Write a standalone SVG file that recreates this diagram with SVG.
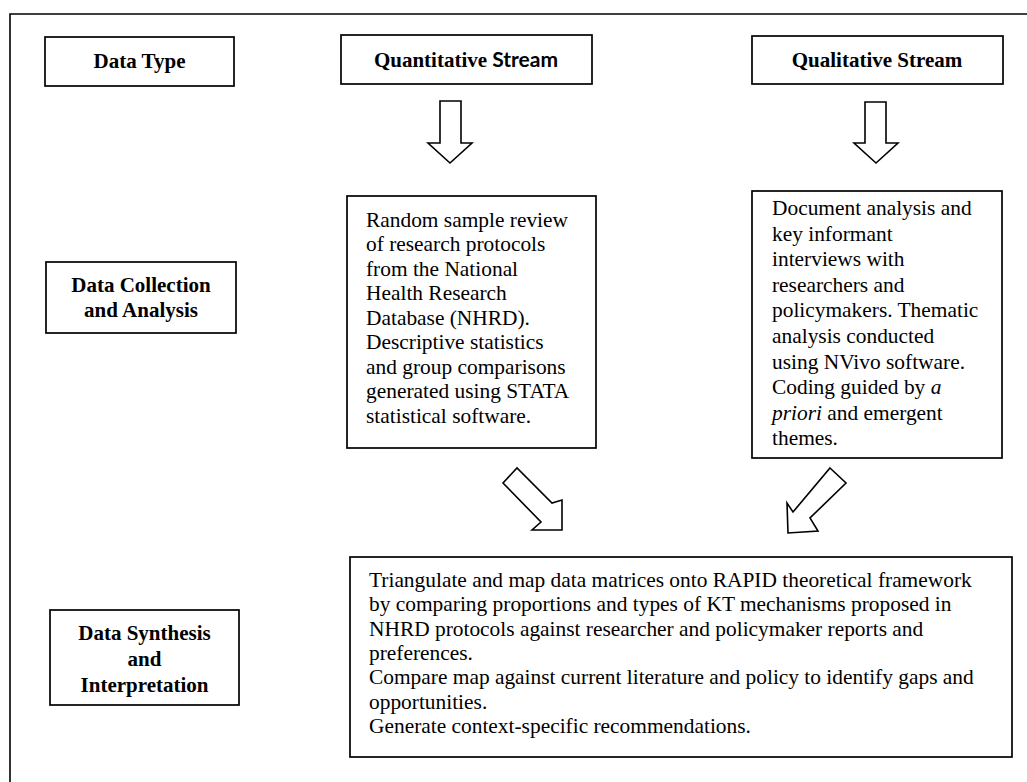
<svg xmlns="http://www.w3.org/2000/svg" width="1027" height="782" viewBox="0 0 1027 782">
  <style>
    .box { fill: #fff; stroke: #000; stroke-width: 1.7; }
    .arrow { fill: #fff; stroke: #000; stroke-width: 1.6; stroke-linejoin: miter; }
    .head { font-family: "Liberation Serif", "Times New Roman", serif; font-weight: bold; font-size: 21px; fill: #000; text-anchor: middle; }
    .sans { font-family: Lato, "Liberation Sans", sans-serif; font-weight: bold; }
    .body { font-family: "Liberation Serif", "Times New Roman", serif; font-size: 21.4px; fill: #000; }
    .frame { fill: none; stroke: #000; stroke-width: 1.6; }
  </style>

  <rect width="1027" height="782" fill="#fff"/>

  <!-- outer frame (open at the right and bottom edges) -->
  <path class="frame" d="M10,782 V14 H1027"/>

  <!-- row labels -->
  <g id="label-data-type">
    <rect class="box" x="45" y="37" width="189" height="49"/>
    <text class="head" x="139.5" y="68">Data Type</text>
  </g>
  <g id="label-collection">
    <rect class="box" x="46" y="262" width="190" height="71"/>
    <text class="head" x="141" y="292">Data Collection</text>
    <text class="head" x="141" y="317">and Analysis</text>
  </g>
  <g id="label-synthesis">
    <rect class="box" x="50" y="610" width="189" height="95"/>
    <text class="head" x="144.5" y="640">Data Synthesis</text>
    <text class="head" x="144.5" y="666">and</text>
    <text class="head" x="144.5" y="692">Interpretation</text>
  </g>

  <!-- stream headers -->
  <g id="quantitative-stream">
    <rect class="box" x="341" y="35" width="251" height="49"/>
    <text class="head" x="466" y="67">Quantitative<tspan class="sans"> Stream</tspan></text>
  </g>
  <g id="qualitative-stream">
    <rect class="box" x="752" y="36" width="251" height="48"/>
    <text class="head" x="877" y="67">Qualitative Stream</text>
  </g>

  <!-- collection and analysis boxes -->
  <g id="quantitative-analysis">
    <rect class="box" x="347" y="196" width="249" height="252"/>
    <text class="body">
      <tspan x="366" y="226.7">Random sample review</tspan>
      <tspan x="366" y="251.2">of research protocols</tspan>
      <tspan x="366" y="275.7">from the National</tspan>
      <tspan x="366" y="300.2">Health Research</tspan>
      <tspan x="366" y="324.7">Database (NHRD).</tspan>
      <tspan x="366" y="349.2">Descriptive statistics</tspan>
      <tspan x="366" y="373.7">and group comparisons</tspan>
      <tspan x="366" y="398.2">generated using STATA</tspan>
      <tspan x="366" y="422.7">statistical software.</tspan>
    </text>
  </g>
  <g id="qualitative-analysis">
    <rect class="box" x="752" y="191" width="250" height="267"/>
    <text class="body">
      <tspan x="772" y="215">Document analysis and</tspan>
      <tspan x="772" y="240.6">key informant</tspan>
      <tspan x="772" y="266.2">interviews with</tspan>
      <tspan x="772" y="291.8">researchers and</tspan>
      <tspan x="772" y="317.4">policymakers. Thematic</tspan>
      <tspan x="772" y="343">analysis conducted</tspan>
      <tspan x="772" y="368.6">using NVivo software.</tspan>
      <tspan x="772" y="394.2">Coding guided by <tspan font-style="italic">a</tspan></tspan>
      <tspan x="772" y="419.8"><tspan font-style="italic">priori</tspan> and emergent</tspan>
      <tspan x="772" y="445.4">themes.</tspan>
    </text>
  </g>

  <!-- synthesis box -->
  <g id="synthesis">
    <rect class="box" x="350" y="557" width="662" height="200"/>
    <text class="body">
      <tspan x="369" y="587">Triangulate and map data matrices onto RAPID theoretical framework</tspan>
      <tspan x="369" y="611.3">by comparing proportions and types of KT mechanisms proposed in</tspan>
      <tspan x="369" y="635.6">NHRD protocols against researcher and policymaker reports and</tspan>
      <tspan x="369" y="659.9">preferences.</tspan>
      <tspan x="369" y="684.2">Compare map against current literature and policy to identify gaps and</tspan>
      <tspan x="369" y="708.5">opportunities.</tspan>
      <tspan x="369" y="732.8">Generate context-specific recommendations.</tspan>
    </text>
  </g>

  <!-- block arrows -->
  <g id="connectors">
    <polygon class="arrow" points="440,101 461,101 461,143 472,143 450,163 428,143 440,143"/>
    <polygon class="arrow" points="865,102 886,102 886,143 898,143 876,163 854,143 865,143"/>
    <polygon class="arrow" points="503,483 517,468 552,503 562,500 562,530 532,530 541,522"/>
    <polygon class="arrow" points="830,468 846,483 810,518 818,531 788,533 787,503 793,512"/>
  </g>
</svg>
